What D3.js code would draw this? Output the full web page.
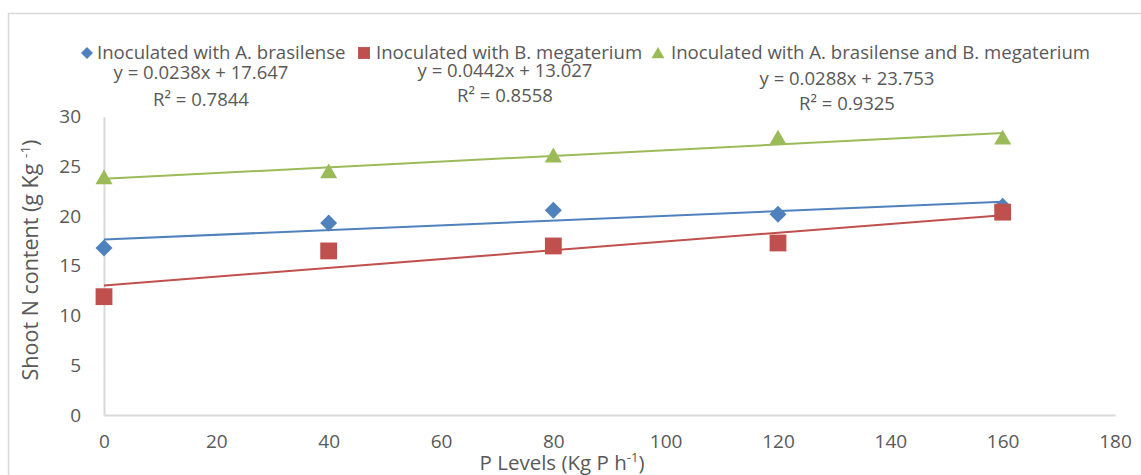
<!DOCTYPE html>
<html>
<head>
<meta charset="utf-8">
<script src="https://cdn.jsdelivr.net/npm/d3@7"></script>
<style>
  html, body { margin: 0; padding: 0; background: #fff; }
  svg { display: block; font-family: "Open Sans", "Liberation Sans", sans-serif; }
</style>
</head>
<body>
<svg id="chart" width="1141" height="475"></svg>
<script>
// P application levels (kg P per ha)
const pLevels = [0, 40, 80, 120, 160];

// Shoot N content (g/kg) for each inoculation treatment
const seriesNames = [
  "Inoculated with A. brasilense",
  "Inoculated with B. megaterium",
  "Inoculated with A. brasilense and B. megaterium"
];
const brasilense = [16.8, 19.3, 20.6, 20.2, 21.0];
const megaterium = [11.9, 16.5, 17.0, 17.3, 20.4];
const combined = [23.9, 24.5, 26.1, 27.9, 27.9];

// Linear trendline coefficients and fit quality
const trendSlopes = [0.0238, 0.0442, 0.0288];
const trendIntercepts = [17.647, 13.027, 23.753];
const rSquared = [0.7844, 0.8558, 0.9325];

const xTicks = [0, 20, 40, 60, 80, 100, 120, 140, 160, 180];
const yTicks = [0, 5, 10, 15, 20, 25, 30];

const colors = ["#4f81bd", "#c0504d", "#9bbb59"];
const symbols = [d3.symbolDiamond2, d3.symbolSquare2, d3.symbolTriangle2];
const seriesValues = [brasilense, megaterium, combined];

const svg = d3.select("#chart");
const textColor = "#595959";
const axisColor = "#d9d9d9";

// chart frame
svg.append("rect")
  .attr("x", 8.5).attr("y", 13.5)
  .attr("width", 1160).attr("height", 480)
  .attr("fill", "none").attr("stroke", axisColor).attr("stroke-width", 1.5);

const x = d3.scaleLinear().domain([0, 180]).range([104, 1115]);
const y = d3.scaleLinear().domain([0, 30]).range([415, 116.7]);

// axes
const xAxis = svg.append("g").attr("transform", `translate(0,${y(0)})`)
  .call(d3.axisBottom(x).tickValues(xTicks).tickSize(0).tickPadding(20));
const yAxis = svg.append("g").attr("transform", `translate(${x(0)},0)`)
  .call(d3.axisLeft(y).tickValues(yTicks).tickSize(0).tickPadding(23));
[xAxis, yAxis].forEach(g => {
  g.select(".domain").attr("stroke", axisColor).attr("stroke-width", 2);
  g.selectAll("text").attr("fill", textColor).attr("font-size", 19)
    .attr("font-family", "'Open Sans', sans-serif");
});

// trendlines
const line = d3.line().x(d => x(d[0])).y(d => y(d[1]));
trendSlopes.forEach((m, i) => {
  const pts = [0, 160].map(v => [v, trendIntercepts[i] + m * v]);
  svg.append("path").attr("d", line(pts))
    .attr("fill", "none").attr("stroke", colors[i]).attr("stroke-width", 2);
});

// markers
const markerSizes = [184, 360, 210];
seriesValues.forEach((vals, i) => {
  svg.append("g").selectAll("path").data(vals).join("path")
    .attr("d", d3.symbol().type(symbols[i]).size(markerSizes[i]))
    .attr("transform", (d, j) => `translate(${x(pLevels[j])},${y(d) + (i === 2 ? 2 : 0)})`)
    .attr("fill", colors[i]);
});

// legend
const legendItems = [
  { sx: 87, tx: 97 },
  { sx: 364, tx: 376 },
  { sx: 658, tx: 671 }
];
const legendSizes = [92, 180, 120];
legendItems.forEach((it, i) => {
  svg.append("path")
    .attr("d", d3.symbol().type(symbols[i]).size(legendSizes[i]))
    .attr("transform", `translate(${it.sx},${53 + (i === 2 ? 1.5 : 0)})`)
    .attr("fill", colors[i]);
  svg.append("text").attr("x", it.tx).attr("y", 59)
    .attr("fill", textColor).attr("font-size", 18.6)
    .text(seriesNames[i]);
});

// trendline equations
const eqPos = [
  { cx: 201, y1: 79, y2: 106 },
  { cx: 505, y1: 77, y2: 102 },
  { cx: 847, y1: 85, y2: 110 }
];
eqPos.forEach((p, i) => {
  svg.append("text").attr("x", p.cx).attr("y", p.y1).attr("text-anchor", "middle")
    .attr("fill", textColor).attr("font-size", 18.5)
    .text(`y = ${trendSlopes[i].toFixed(4)}x + ${trendIntercepts[i].toFixed(3)}`);
  svg.append("text").attr("x", p.cx).attr("y", p.y2).attr("text-anchor", "middle")
    .attr("fill", textColor).attr("font-size", 18.5)
    .text(`R² = ${rSquared[i].toFixed(4)}`);
});

// axis titles
const yTitle = svg.append("text")
  .attr("transform", "translate(38,260) rotate(-90)")
  .attr("text-anchor", "middle").attr("fill", textColor).attr("font-size", 21.5);
yTitle.append("tspan").text("Shoot N content (g Kg ");
yTitle.append("tspan").attr("font-size", 13.5).attr("dy", -8).text("-1");
yTitle.append("tspan").attr("dy", 8).text(")");

const xTitle = svg.append("text")
  .attr("x", 562).attr("y", 470)
  .attr("text-anchor", "middle").attr("fill", textColor).attr("font-size", 20.5);
xTitle.append("tspan").text("P Levels (Kg P h");
xTitle.append("tspan").attr("font-size", 13).attr("dy", -8).text("-1");
xTitle.append("tspan").attr("dy", 8).text(")");
</script>
</body>
</html>
